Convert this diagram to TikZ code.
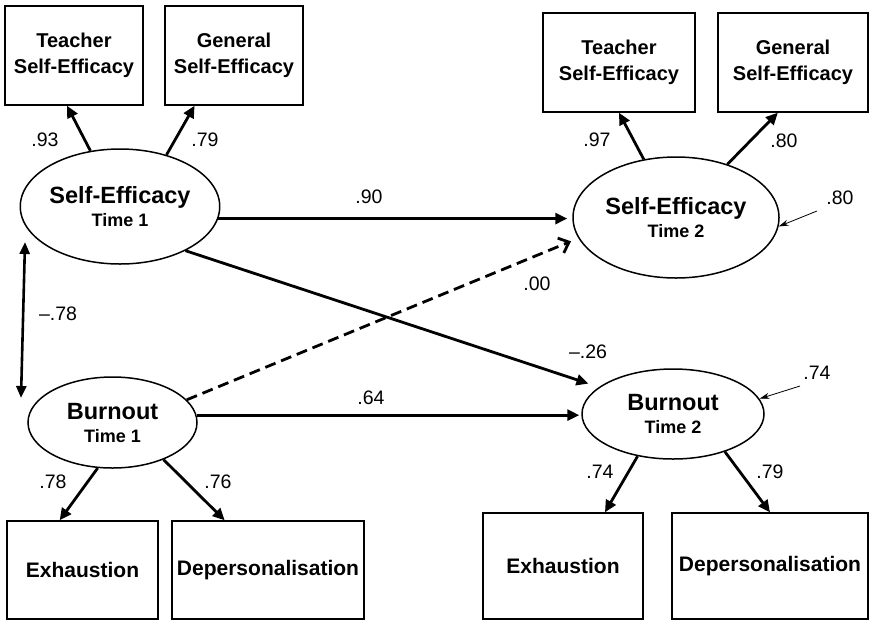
\documentclass[tikz,border=0pt]{standalone}
\usepackage{fontspec}
\setmainfont{Liberation Sans}
\usetikzlibrary{arrows.meta,calc,shapes.geometric}
\begin{document}
\begin{tikzpicture}[x=1pt,y=-1pt,
  box/.style={draw,line width=1.4pt,rectangle,inner sep=0pt,align=center,
    font=\bfseries\fontsize{20}{26.5}\selectfont},
  lowbox/.style={box,font=\bfseries\fontsize{21}{25}\selectfont},
  latent/.style={draw,line width=1.5pt,ellipse,inner sep=0pt,align=center,
    font=\bfseries\fontsize{23.5}{24}\selectfont},
  lab/.style={inner sep=0pt,font=\fontsize{19.5}{22}\selectfont},
  path/.style={line width=2.8pt,-{Triangle[length=12pt,width=11pt]}},
  bipath/.style={line width=2.6pt,{Triangle[length=12pt,width=10pt]}-{Triangle[length=12pt,width=10pt]}},
  dpath/.style={line width=2.8pt,dash pattern=on 11pt off 6pt,-{Straight Barb[length=9pt,width=16pt]}},
  resid/.style={line width=0.8pt,-{Stealth[length=10pt,width=6pt]}}
]
\useasboundingbox (0,0) rectangle (869,622);

% indicator boxes
\node[box,minimum width=138,minimum height=99] (t1) at (74,55.5) {Teacher\\Self-Efficacy};
\node[box,minimum width=138,minimum height=99] (g1) at (234,55.5) {General\\Self-Efficacy};
\node[box,minimum width=152,minimum height=99] (t2) at (619,62.5) {Teacher\\Self-Efficacy};
\node[box,minimum width=150,minimum height=99] (g2) at (793,62.5) {General\\Self-Efficacy};
\node[lowbox,minimum width=151,minimum height=98] (e1) at (82.5,570) {Exhaustion};
\node[lowbox,minimum width=192,minimum height=98] (d1) at (268,570) {Depersonalisation};
\node[lowbox,minimum width=160,minimum height=106] (e2) at (563,566) {Exhaustion};
\node[lowbox,minimum width=196,minimum height=106] (d2) at (770,566) {Depersonalisation};

% latent variables
\node[latent,minimum width=198,minimum height=115] (se1) at (120,206.5)
  {Self-Efficacy\\[-1pt]{\fontsize{18}{20}\selectfont Time 1}};
\node[latent,minimum width=206,minimum height=121] (se2) at (676,217.5)
  {Self-Efficacy\\[-1pt]{\fontsize{18}{20}\selectfont Time 2}};
\node[latent,minimum width=169,minimum height=91] (b1) at (112.5,422.5)
  {Burnout\\[-1pt]{\fontsize{18}{20}\selectfont Time 1}};
\node[latent,minimum width=182,minimum height=90] (b2) at (673,414)
  {Burnout\\[-1pt]{\fontsize{18}{20}\selectfont Time 2}};

% free ends
\coordinate (c1) at (25,242);
\coordinate (c2) at (21,398);
\coordinate (r1) at (817,211);
\coordinate (r2) at (800,386);

% loadings
\draw[path] (se1.118) -- ($(t1.south west)!0.45!(t1.south east)$);
\draw[path] (se1.48) -- ($(g1.south west)!0.217!(g1.south east)$);
\draw[path] (se2.119) -- (t2.south);
\draw[path] (se2.46) -- ($(g2.south west)!0.4!(g2.south east)$);
\draw[path] (b1.252) -- ($(e1.north west)!0.35!(e1.north east)$);
\draw[path] (b1.-36) -- ($(d1.north west)!0.276!(d1.north east)$);
\draw[path] (b2.230) -- ($(e2.north west)!0.76!(e2.north east)$);
\draw[path] (b2.-36) -- ($(d2.north west)!0.5!(d2.north east)$);

% structural paths
\draw[path,shorten >=5pt] (se1.-7) -- (se1.-7 -| se2.west);
\draw[path,shorten >=11pt] (se1.-34) -- (b2.160);
\draw[dpath,shorten >=8pt] (b1.17) -- (se2.192);
\draw[path,shorten >=2pt] (b1.5) -- (b1.5 -| b2.west);
\draw[bipath] (c1) -- (c2);

% residuals
\draw[resid] (r1) -- (se2.-5);
\draw[resid] (r2) -- (b2.10);

% labels
\node[lab] (l1) at (45,140) {.93};
\node[lab] (l2) at (205,140) {.79};
\node[lab] (l3) at (597,140) {.97};
\node[lab] (l4) at (784,141) {.80};
\node[lab] (l5) at (840,198) {.80};
\node[lab] (l6) at (369,197) {.90};
\node[lab] (l7) at (537,284) {.00};
\node[lab] (l8) at (588,352) {–.26};
\node[lab] (l9) at (371,398) {.64};
\node[lab] (l10) at (58,314) {–.78};
\node[lab] (l11) at (53,482) {.78};
\node[lab] (l12) at (218,482) {.76};
\node[lab] (l13) at (600,472) {.74};
\node[lab] (l14) at (770,472) {.79};
\node[lab] (l15) at (817,373) {.74};
\end{tikzpicture}
\end{document}
